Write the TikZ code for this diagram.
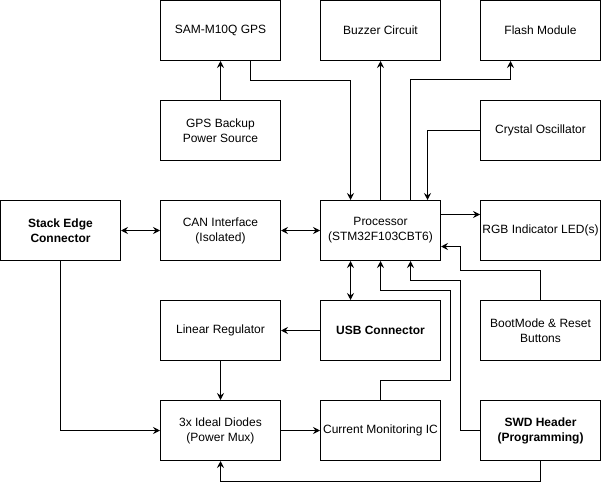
\documentclass[tikz,border=0pt]{standalone}
\usepackage{fontspec}
\setmainfont{Liberation Sans}
\usetikzlibrary{arrows.meta}
\begin{document}
\begin{tikzpicture}[x=1pt,y=-1pt,
  blk/.style={draw=black,line width=1pt,minimum width=120pt,minimum height=60pt,inner sep=1pt,align=center,font=\fontsize{12}{15}\selectfont},
  bblk/.style={blk,font=\fontsize{12}{15}\selectfont\bfseries},
  arr/.style={draw=black,line width=1pt,-{Stealth[length=7pt,width=7pt,inset=2.5pt]}},
  dbl/.style={draw=black,line width=1pt,{Stealth[length=7pt,width=7pt,inset=2.5pt]}-{Stealth[length=7pt,width=7pt,inset=2.5pt]}}]
\useasboundingbox (0,0) rectangle (601,489);
\node[blk] (gps) at (220.5,30.5) {SAM-M10Q GPS};
\node[blk] (buzz) at (380.5,30.5) {Buzzer Circuit};
\node[blk] (flash) at (540.5,30.5) {Flash Module};
\node[blk] (gpsb) at (220.5,130.5) {GPS Backup\\Power Source};
\node[blk] (xtal) at (540.5,130.5) {Crystal Oscillator};
\node[bblk] (stack) at (60.5,230.5) {Stack Edge\\Connector};
\node[blk] (can) at (220.5,230.5) {CAN Interface\\(Isolated)};
\node[blk] (proc) at (380.5,230.5) {Processor\\(STM32F103CBT6)};
\node[blk] (rgb) at (540.5,230.5) {RGB Indicator LED(s)};
\node[blk] (lin) at (220.5,330.5) {Linear Regulator};
\node[bblk] (usb) at (380.5,330.5) {USB Connector};
\node[blk] (boot) at (540.5,330.5) {BootMode \& Reset\\Buttons};
\node[blk] (diode) at (220.5,430.5) {3x Ideal Diodes\\(Power Mux)};
\node[blk] (cur) at (380.5,430.5) {Current Monitoring IC};
\node[bblk] (swd) at (540.5,430.5) {SWD Header\\(Programming)};

\draw[arr] (gpsb) -- (gps);
\draw[arr] ([xshift=30pt]gps.south) -- ++(0,20) -| ([xshift=-30pt]proc.north);
\draw[arr] (proc.north) -- (buzz.south);
\draw[arr] ([xshift=30pt]proc.north) -- ++(0,-120) -| ([xshift=-30pt]flash.south);
\draw[arr] (xtal.west) -| ([xshift=47pt]proc.north);
\draw[arr] ([yshift=16pt]proc.east) -- ([yshift=16pt]rgb.west);
\draw[arr] (boot.north) -- ++(0,-30) -- ++(-80,0) |- ([yshift=-16pt]proc.east);
\draw[dbl] ([xshift=-30pt]proc.south) -- ([xshift=-30pt]usb.north);
\draw[arr] (cur.north) -- ++(0,-20) -- ++(70,0) -- ++(0,-90) -| (proc.south);
\draw[arr] (swd.west) -- ++(-20,0) -- ++(0,-150) -| ([xshift=30pt]proc.south);
\draw[arr] (swd.south) -- ++(0,20) -| (diode.south);
\draw[dbl] (stack) -- (can);
\draw[dbl] (can) -- (proc);
\draw[arr] (usb) -- (lin);
\draw[arr] (lin) -- (diode);
\draw[arr] (stack.south) |- (diode.west);
\draw[arr] (diode) -- (cur);
\end{tikzpicture}
\end{document}
